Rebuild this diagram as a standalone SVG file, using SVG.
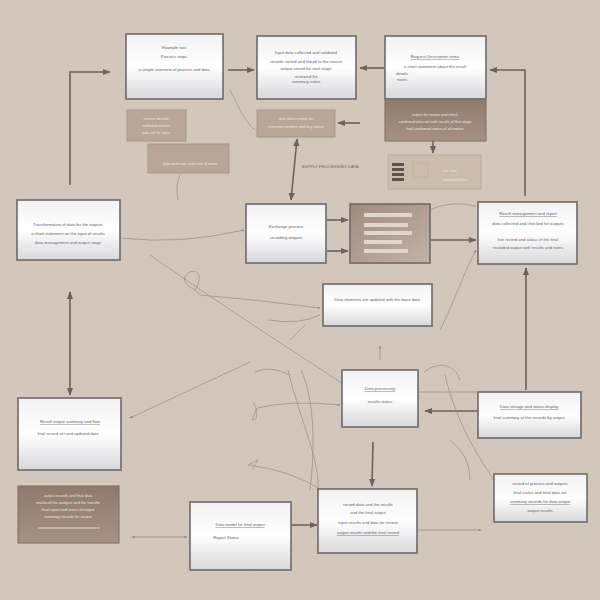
<svg xmlns="http://www.w3.org/2000/svg" width="600" height="600" viewBox="0 0 600 600">
<defs>
<linearGradient id="wg" x1="0" y1="0" x2="0" y2="1">
<stop offset="0" stop-color="#f2f2f4"/><stop offset="0.5" stop-color="#ffffff"/><stop offset="1" stop-color="#d8d8dd"/>
</linearGradient>
<linearGradient id="bg2" x1="0" y1="0" x2="0" y2="1">
<stop offset="0" stop-color="#8f7a6e"/><stop offset="1" stop-color="#a59285"/>
</linearGradient>
<linearGradient id="bg3" x1="0" y1="0" x2="1" y2="1">
<stop offset="0" stop-color="#a08b7f"/><stop offset="1" stop-color="#c2b2a6"/>
</linearGradient>
<marker id="ah" viewBox="0 0 10 10" refX="9" refY="5" markerWidth="5" markerHeight="5" orient="auto-start-reverse">
<path d="M0,1 L10,5 L0,9 z" fill="#6d625c"/>
</marker>
<marker id="ahs" viewBox="0 0 10 10" refX="9" refY="5" markerWidth="4" markerHeight="4" orient="auto-start-reverse">
<path d="M0,1 L10,5 L0,9 z" fill="#8a7e77"/>
</marker>
</defs>
<style>
.w{fill:url(#wg);stroke:#6e6a68;stroke-width:1.6}
.b{fill:url(#bg2);stroke:#7d6c62;stroke-width:1}
.l{fill:#b8a699;stroke:#a89588;stroke-width:1}
.t{font-family:"Liberation Sans",Arial,sans-serif;font-size:4.2px;fill:#666;text-anchor:middle}
.tw{font-family:"Liberation Sans",Arial,sans-serif;font-size:3.8px;fill:#efe6df;text-anchor:middle}
.c{fill:none;stroke:#6d625c;stroke-width:1.6}
.f{fill:none;stroke:#968b84;stroke-width:0.7}
</style>
<rect width="600" height="600" fill="#d3c7bb"/>

<g id="connectors">
<path class="c" d="M70,185 V72 H110" marker-end="url(#ah)"/>
<path class="c" d="M228,70 H254" marker-end="url(#ah)"/>
<path class="c" d="M384,68 H360" marker-end="url(#ah)"/>
<path class="c" d="M525,196 V70 H490" marker-end="url(#ah)"/>
<path class="c" d="M360,123 H338" marker-end="url(#ah)"/>
<path class="c" d="M291,200 L297,139" marker-start="url(#ah)" marker-end="url(#ah)"/>
<path class="c" d="M433,141 V153" marker-end="url(#ah)"/>
<path class="c" d="M327,220 H348" marker-end="url(#ah)"/>
<path class="c" d="M327,251 H348" marker-end="url(#ah)"/>
<path class="c" d="M430,240 H476" marker-end="url(#ah)"/>
<path class="c" d="M526,390 V268" marker-end="url(#ah)"/>
<path class="c" d="M70,292 V395" marker-start="url(#ah)" marker-end="url(#ah)"/>
<path class="f" d="M250,362 L130,418" marker-end="url(#ahs)"/>
<path class="f" d="M418,392 H478"/>
<path class="c" d="M477,411 H425" marker-end="url(#ah)"/>
<path class="c" d="M373,442 L372,486" marker-end="url(#ah)"/>
<path class="c" d="M292,525 H317" marker-end="url(#ah)"/>
<path class="f" d="M417,530 H481" marker-end="url(#ahs)"/>
<path class="f" d="M132,537 H187" marker-start="url(#ahs)" marker-end="url(#ahs)"/>
<path class="f" d="M121,238 Q180,245 244,230" marker-end="url(#ahs)"/>
<path class="f" d="M150,255 C200,290 260,330 345,385"/>
<path class="f" d="M195,290 C185,285 180,278 190,272 C200,268 202,280 195,290 L200,295 Q260,300 320,308" marker-end="url(#ahs)"/>
<path class="f" d="M268,320 Q300,325 320,315"/>
<path class="f" d="M290,340 L305,325"/>
<path class="f" d="M255,372 Q270,365 290,375"/>
<path class="f" d="M254,403 C258,415 258,420 252,420 L257,408 Q290,400 340,405" marker-end="url(#ahs)"/>
<path class="f" d="M252,470 L258,460 L248,465 Q290,470 322,490"/>
<path class="f" d="M288,370 C300,420 320,460 318,490"/>
<path class="f" d="M301,370 C315,400 315,450 310,490"/>
<path class="f" d="M380,360 V346" marker-end="url(#ahs)"/>
<path class="f" d="M424,372 C440,360 455,365 460,380"/>
<path class="f" d="M445,375 C455,420 480,460 494,480"/>
<path class="f" d="M450,440 Q470,455 470,480"/>
<path class="f" d="M430,210 Q450,200 476,206"/>
<path class="f" d="M440,330 C455,300 465,270 476,250" marker-end="url(#ahs)"/>
<path class="f" d="M230,90 C240,110 250,130 257,130"/>
<path class="f" d="M180,175 Q175,185 178,200"/>
<path class="f" d="M415,178 L410,185"/>
</g>

<g id="n1"><rect class="w" x="126" y="34" width="97" height="65"/>
<text class="t" x="174" y="49">Example tool</text><text class="t" x="174" y="58">Process steps</text><text class="t" x="174" y="71">a simple overview of process and data</text></g>

<g id="n2"><rect class="w" x="257" y="36" width="99" height="63"/>
<text class="t" x="306" y="54">Input data collected and validated</text><text class="t" x="306" y="63">records sorted and linked to the source</text><text class="t" x="306" y="70" font-size="3.2">output stored for next stage</text><text class="t" x="306" y="78" font-size="3.2">reviewed list</text><text class="t" x="306" y="83" font-size="3.2">summary notes</text></g>

<g id="n3"><rect class="w" x="385" y="36" width="101" height="63"/>
<text class="t" x="435" y="58" text-decoration="underline">Request Description items</text><text class="t" x="435" y="68">a short statement about the result</text><text class="t" x="402" y="75" font-size="3.2">details</text><text class="t" x="402" y="81" font-size="3.2">notes</text></g>

<g id="n3b"><rect class="b" x="385" y="99" width="101" height="42"/>
<text class="tw" x="435" y="116">output for review and check</text><text class="tw" x="435" y="123">combined data set with results of first stage</text><text class="tw" x="435" y="130">final confirmed status of all entries</text></g>

<g id="n3c"><rect x="388" y="155" width="93" height="34" fill="#cbbcae" stroke="#b9a99c" stroke-width="0.8"/>
<rect x="392" y="163" width="12" height="3" fill="#5d534e"/><rect x="392" y="168" width="12" height="3" fill="#5d534e"/><rect x="392" y="173" width="12" height="3" fill="#5d534e"/><rect x="392" y="178" width="12" height="3" fill="#5d534e"/>
<rect x="413" y="163" width="15" height="14" fill="none" stroke="#bcab9e" stroke-width="0.6"/>
<text class="tw" x="450" y="172">list view</text><text class="tw" x="455" y="181">selected items</text></g>

<g id="n4"><rect class="l" x="127" y="110" width="59" height="31"/>
<text class="tw" x="156" y="120">source records</text><text class="tw" x="156" y="127">validated entries</text><text class="tw" x="156" y="134">data set for input</text></g>

<g id="n5"><rect class="l" x="148" y="144" width="81" height="29" fill="#b09d90"/>
<text class="tw" x="190" y="165">data and main selection of items</text></g>

<g id="n6"><rect class="l" x="257" y="110" width="78" height="27"/>
<text class="tw" x="296" y="120">data status   result set</text><text class="tw" x="296" y="128">reference number and key values</text></g>

<text class="t" x="330" y="168" fill="#7a6e68">SUPPLY PROCESSING DATA</text>

<g id="n7"><rect class="w" x="17" y="200" width="103" height="60"/>
<text class="t" x="68" y="226">Transformation of data for the outputs</text><text class="t" x="68" y="235">a short statement on the input of results</text><text class="t" x="68" y="244">data management and output stage</text></g>

<g id="n8"><rect class="w" x="246" y="204" width="80" height="59"/>
<text class="t" x="286" y="228">Exchange process</text><text class="t" x="286" y="239">recording outputs</text></g>

<g id="n9"><rect x="350" y="204" width="80" height="59" fill="url(#bg3)" stroke="#6e6a68" stroke-width="1.6"/>
<rect x="364" y="213" width="48" height="4" fill="#e2d6cc"/><rect x="364" y="223" width="44" height="4" fill="#e2d6cc"/><rect x="364" y="231" width="48" height="4" fill="#e2d6cc"/><rect x="364" y="240" width="38" height="4" fill="#e2d6cc"/><rect x="364" y="249" width="44" height="4" fill="#e2d6cc"/></g>

<g id="n10"><rect class="w" x="478" y="202" width="99" height="62"/>
<text class="t" x="528" y="215" text-decoration="underline">Result management and report</text><text class="t" x="528" y="225">data collected and checked for outputs</text><text class="t" x="528" y="241">live record and status of the final</text><text class="t" x="528" y="249">recorded output with results and notes</text></g>

<g id="n11"><rect class="w" x="323" y="284" width="109" height="42"/>
<text class="t" x="377" y="301">Data elements are updated with the base data</text></g>

<g id="n12"><rect class="w" x="342" y="370" width="76" height="57"/>
<text class="t" x="380" y="390" text-decoration="underline">Data processing</text><text class="t" x="380" y="403">results status</text></g>

<g id="n13"><rect class="w" x="478" y="392" width="103" height="46"/>
<text class="t" x="529" y="408" text-decoration="underline">Data storage and status display</text><text class="t" x="529" y="419">final summary of the records by output</text></g>

<g id="n14"><rect class="w" x="18" y="398" width="103" height="72"/>
<text class="t" x="70" y="423" text-decoration="underline">Result output summary and flow</text><text class="t" x="68" y="435">final record set and updated data</text></g>

<g id="n15"><rect class="b" x="18" y="486" width="101" height="57" fill="#a3907f"/>
<text class="tw" x="68" y="497">output records and final data</text><text class="tw" x="68" y="504">results of the analysis and the transfer</text><text class="tw" x="68" y="511">final report and status of output</text><text class="tw" x="68" y="518">summary records for review</text>
<line x1="38" y1="528" x2="100" y2="528" stroke="#e6dcd4" stroke-width="1"/></g>

<g id="n16"><rect class="w" x="190" y="502" width="101" height="68"/>
<text class="t" x="240" y="526" text-decoration="underline">Data model for final output</text><text class="t" x="226" y="539">Report Status</text></g>

<g id="n17"><rect class="w" x="318" y="489" width="99" height="64"/>
<text class="t" x="368" y="506">record data and the results</text><text class="t" x="368" y="514">and the final output</text><text class="t" x="368" y="524">input results and data for review</text><text class="t" x="368" y="534" text-decoration="underline">output results and the final record</text></g>

<g id="n18"><rect class="w" x="494" y="474" width="93" height="48"/>
<text class="t" x="540" y="485">record of process and outputs</text><text class="t" x="540" y="494">final status and final data set</text><text class="t" x="540" y="503" text-decoration="underline">summary records for data output</text><text class="t" x="540" y="512">output results</text></g>
</svg>
